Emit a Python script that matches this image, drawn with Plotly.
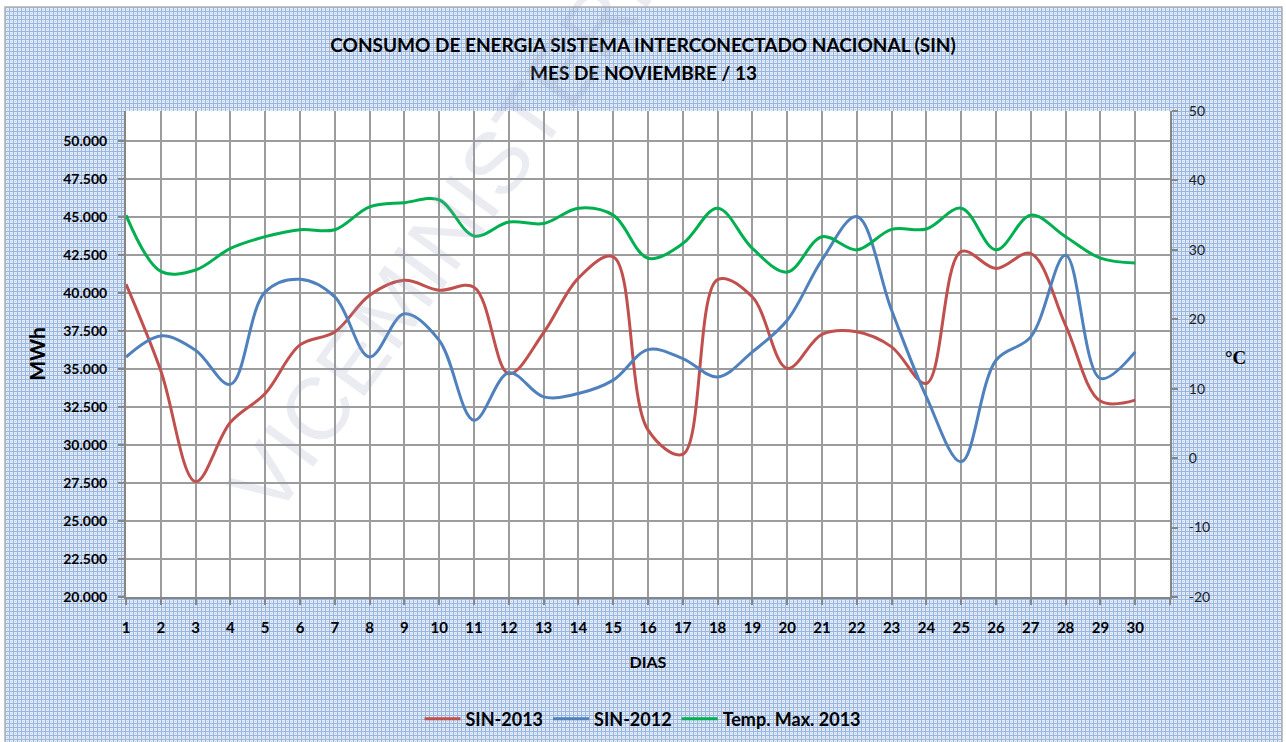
import base64
import plotly.graph_objects as go

dias = list(range(1, 31))

sin_2013 = [40600, 34900, 27600, 31500, 33400, 36600, 37450, 39870, 40850, 40200,
            40400, 34700, 37400, 41000, 42400, 31000, 29400, 40900, 39750, 35050,
            37300, 37460, 36470, 34060, 42750, 41630, 42610, 37890, 32900, 32960]

sin_2012 = [35800, 37190, 36250, 34000, 40090, 40920, 39760, 35810, 38650, 36900,
            31640, 34760, 33180, 33400, 34280, 36290, 35700, 34490, 36140, 38220,
            42200, 45050, 38880, 33180, 28900, 35590, 37130, 42500, 34390, 36140]

temp_max_2013 = [35.0, 26.9, 27.1, 30.2, 31.9, 32.9, 32.9, 36.2, 36.8, 37.2,
                 32.0, 34.0, 33.8, 36.0, 35.0, 28.8, 30.9, 36.0, 30.2, 26.8,
                 31.9, 30.0, 32.95, 33.0, 36.0, 30.0, 35.0, 31.9, 28.8, 28.1]

temp_ticks = [-20, -10, 0, 10, 20, 30, 40, 50]
temp_tick_labels = ["-20", "-10", "0", "10", "20", "30", "40", "50"]

FONT = "Lato"
GRID = "#9c9c9c"
AXIS = "#868686"

W, H = 1286, 742
L, R, T, B = 126, 116, 111, 145
pw, ph = W - L - R, H - T - B


def px_x(p):
    return (p - L) / pw


def px_y(p):
    return (H - B - p) / ph


# graph-paper background tile
bx0, by0, bx1, by1 = 5, 7, 1282, 745
bw, bh = bx1 - bx0, by1 - by0
svg = (
    f"<svg xmlns='http://www.w3.org/2000/svg' width='{bw}' height='{bh}' "
    f"viewBox='0 0 {bw} {bh}' shape-rendering='crispEdges'>"
    "<defs><pattern id='p' width='4' height='4' patternUnits='userSpaceOnUse'>"
    "<rect width='4' height='4' fill='#e3ebf7'/>"
    "<rect x='0' y='0' width='1' height='4' fill='#97b5df'/>"
    "<rect x='0' y='0' width='4' height='1' fill='#97b5df'/>"
    "<rect x='2' y='2' width='1' height='1' fill='#bdd0ec'/>"
    "</pattern></defs>"
    f"<rect width='{bw}' height='{bh}' fill='url(#p)'/></svg>"
)
bg_src = "data:image/svg+xml;base64," + base64.b64encode(svg.encode()).decode()

fig = go.Figure()
fig.add_trace(go.Scatter(x=dias, y=sin_2013, name="SIN-2013", mode="lines",
                         line=dict(color="#c0504d", width=3, shape="spline")))
fig.add_trace(go.Scatter(x=dias, y=sin_2012, name="SIN-2012", mode="lines",
                         line=dict(color="#4f81bd", width=3, shape="spline")))
fig.add_trace(go.Scatter(x=dias, y=temp_max_2013, name="Temp. Max. 2013", mode="lines",
                         yaxis="y2",
                         line=dict(color="#00b050", width=3, shape="spline")))

fig.update_layout(
    width=W, height=H,
    margin=dict(l=L, r=R, t=T, b=B),
    paper_bgcolor="white",
    plot_bgcolor="white",
    separators=",.",
    showlegend=True,
    title=dict(text="<b>CONSUMO DE ENERGIA SISTEMA INTERCONECTADO NACIONAL (SIN)</b>",
               x=0.5, xanchor="center", y=1 - 45 / H, yanchor="middle",
               font=dict(family=FONT, size=19, color="black")),
    xaxis=dict(range=[1, 31], tickvals=list(range(1, 32)),
               ticktext=[str(d) for d in dias] + [""],
               showgrid=True, gridcolor=GRID, gridwidth=1.5,
               showline=True, linecolor=AXIS, linewidth=2,
               ticks="outside", ticklen=6, tickcolor=AXIS, tickwidth=1.5,
               ticklabelstandoff=10,
               tickfont=dict(family=FONT, size=15, color="black", weight="bold"),
               title=dict(text="<b>DIAS</b>", standoff=22,
                          font=dict(family=FONT, size=16, color="black")),
               zeroline=False),
    yaxis=dict(range=[20000, 52000], tick0=20000, dtick=2500, tickformat=",d",
               showgrid=True, gridcolor=GRID, gridwidth=1.5,
               showline=True, linecolor=AXIS, linewidth=2,
               ticks="outside", ticklen=6, tickcolor=AXIS, tickwidth=1.5,
               ticklabelstandoff=8,
               tickfont=dict(family=FONT, size=14, color="black", weight="bold"),
               title=dict(text="<b>MWh</b>", standoff=12,
                          font=dict(family=FONT, size=21, color="black")),
               zeroline=False),
    yaxis2=dict(range=[-20, 50], tickvals=temp_ticks, ticktext=temp_tick_labels,
                overlaying="y", side="right",
                showgrid=False, showline=True, linecolor=AXIS, linewidth=2,
                ticks="outside", ticklen=6, tickcolor=AXIS, tickwidth=1.5,
                ticklabelstandoff=8,
                tickfont=dict(family=FONT, size=14, color="#202020"),
                zeroline=False),
    legend=dict(orientation="h", xref="container", yref="container",
                x=643 / W, xanchor="center", y=1 - 719 / H, yanchor="middle",
                bgcolor="rgba(0,0,0,0)",
                font=dict(family=FONT, size=18, color="black", weight="bold"),
                itemwidth=36, tracegroupgap=0),
)

fig.add_layout_image(source=bg_src, xref="paper", yref="paper",
                     x=px_x(bx0), y=px_y(by0), sizex=bw / pw, sizey=bh / ph,
                     xanchor="left", yanchor="top", sizing="stretch", layer="below")

# white plotting area above the patterned background
fig.add_shape(type="rect", xref="paper", yref="paper", layer="below",
              x0=0, x1=1, y0=0, y1=1, line=dict(width=0), fillcolor="white")

# thin outer border
fig.add_shape(type="rect", xref="paper", yref="paper", layer="below",
              x0=px_x(bx0), x1=px_x(bx1), y0=px_y(by1), y1=px_y(by0),
              line=dict(color="#b0b0b0", width=1.5), fillcolor="rgba(0,0,0,0)")

fig.add_annotation(text="<b>MES DE NOVIEMBRE / 13</b>", xref="paper", yref="paper",
                   x=px_x(W / 2), y=px_y(72), xanchor="center", yanchor="middle",
                   showarrow=False, font=dict(family=FONT, size=19, color="black"))

fig.add_annotation(text="<b>°C</b>", xref="paper", yref="paper",
                   x=px_x(1235), y=px_y(357), xanchor="center", yanchor="middle",
                   showarrow=False,
                   font=dict(family="Liberation Serif", size=19, color="black"))

# watermark
fig.add_annotation(text="VICEMINISTERIO", xref="paper", yref="paper",
                   x=px_x(460), y=px_y(212), xanchor="center", yanchor="middle",
                   textangle=-54, showarrow=False,
                   font=dict(family="Liberation Sans", size=88, color="rgba(150,158,190,0.2)"))

fig.write_html("out.html", config={"displayModeBar": False},
               post_script="document.body.style.margin='0';")
